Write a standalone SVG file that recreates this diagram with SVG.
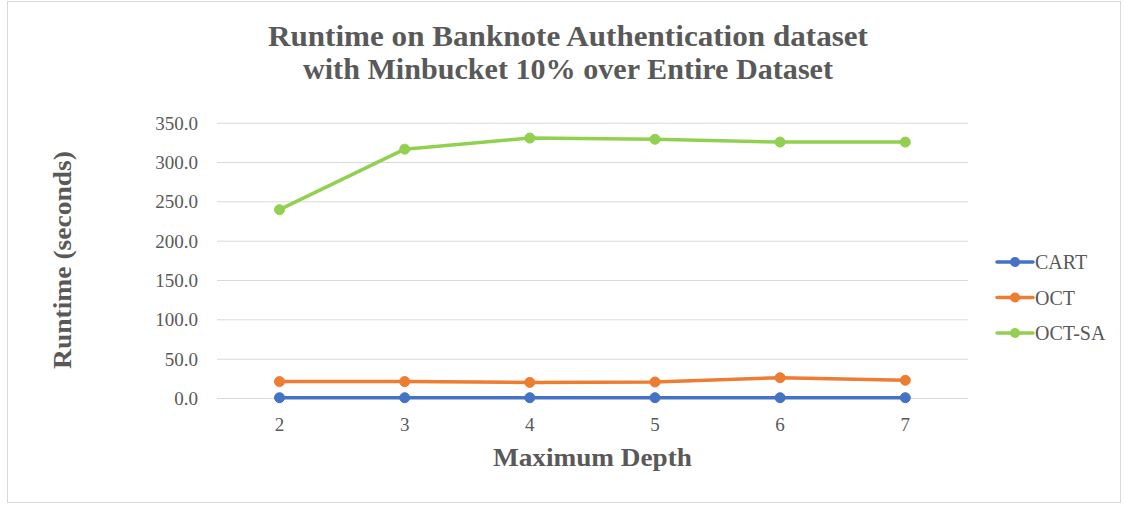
<svg xmlns="http://www.w3.org/2000/svg" width="1125" height="506" viewBox="0 0 1125 506">
  <style>
    .txt { font-family: "Liberation Serif", "DejaVu Serif", serif; fill: #595959; }
    .title { font-size: 29px; font-weight: bold; }
    .axt { font-size: 25px; font-weight: bold; }
    .tick { font-size: 19px; }
    .leg { font-size: 20px; }
    .grid { stroke: #d9d9d9; stroke-width: 1; }
    .s { fill: none; stroke-width: 3.5; stroke-linejoin: round; stroke-linecap: round; }
  </style>
  <rect x="0" y="0" width="1125" height="506" fill="#ffffff"/>
  <rect x="7.5" y="1.5" width="1113" height="501" fill="#ffffff" stroke="#d9d9d9" stroke-width="1"/>

  <!-- chart title -->
  <g id="title" class="txt title" text-anchor="middle">
    <text x="568" y="46" textLength="600" lengthAdjust="spacingAndGlyphs">Runtime on Banknote Authentication dataset</text>
    <text x="568" y="79" textLength="530" lengthAdjust="spacingAndGlyphs">with Minbucket 10% over Entire Dataset</text>
  </g>

  <!-- horizontal gridlines -->
  <g id="gridlines" class="grid">
    <line x1="217" y1="123.2" x2="968" y2="123.2"/>
    <line x1="217" y1="162.5" x2="968" y2="162.5"/>
    <line x1="217" y1="201.8" x2="968" y2="201.8"/>
    <line x1="217" y1="241.2" x2="968" y2="241.2"/>
    <line x1="217" y1="280.5" x2="968" y2="280.5"/>
    <line x1="217" y1="319.8" x2="968" y2="319.8"/>
    <line x1="217" y1="359.2" x2="968" y2="359.2"/>
    <line x1="217" y1="398.5" x2="968" y2="398.5"/>
  </g>

  <!-- value axis labels -->
  <g id="y-axis" class="txt tick" text-anchor="end">
    <text x="198" y="129.5">350.0</text>
    <text x="198" y="168.5">300.0</text>
    <text x="198" y="208">250.0</text>
    <text x="198" y="247.5">200.0</text>
    <text x="198" y="287">150.0</text>
    <text x="198" y="326">100.0</text>
    <text x="198" y="365.5">50.0</text>
    <text x="198" y="405">0.0</text>
  </g>
  <text id="y-title" class="txt axt" text-anchor="middle" textLength="218" lengthAdjust="spacingAndGlyphs" transform="translate(71 260) rotate(-90)">Runtime (seconds)</text>

  <!-- category axis labels -->
  <g id="x-axis" class="txt tick" text-anchor="middle">
    <text x="279.5" y="431">2</text>
    <text x="404.7" y="431">3</text>
    <text x="529.8" y="431">4</text>
    <text x="655" y="431">5</text>
    <text x="780.1" y="431">6</text>
    <text x="905.3" y="431">7</text>
  </g>
  <text id="x-title" class="txt axt" text-anchor="middle" x="592.5" y="466" textLength="199" lengthAdjust="spacingAndGlyphs">Maximum Depth</text>

  <!-- data series -->
  <g id="connectors">
    <g id="series-cart" stroke="#4472c4" fill="#4472c4">
      <polyline class="s" points="279.5,397.7 404.7,397.7 529.8,397.7 655,397.7 780.1,397.7 905.3,397.7"/>
      <circle cx="279.5" cy="397.7" r="5"/><circle cx="404.7" cy="397.7" r="5"/><circle cx="529.8" cy="397.7" r="5"/>
      <circle cx="655" cy="397.7" r="5"/><circle cx="780.1" cy="397.7" r="5"/><circle cx="905.3" cy="397.7" r="5"/>
    </g>
    <g id="series-oct" stroke="#ed7d31" fill="#ed7d31">
      <polyline class="s" points="279.5,381.6 404.7,381.6 529.8,382.4 655,382 780.1,377.7 905.3,380.3"/>
      <circle cx="279.5" cy="381.6" r="5"/><circle cx="404.7" cy="381.6" r="5"/><circle cx="529.8" cy="382.4" r="5"/>
      <circle cx="655" cy="382" r="5"/><circle cx="780.1" cy="377.7" r="5"/><circle cx="905.3" cy="380.3" r="5"/>
    </g>
    <g id="series-oct-sa" stroke="#92d050" fill="#92d050">
      <polyline class="s" points="279.5,209.7 404.7,149.2 529.8,138.1 655,139.3 780.1,142.1 905.3,142.1"/>
      <circle cx="279.5" cy="209.7" r="5"/><circle cx="404.7" cy="149.2" r="5"/><circle cx="529.8" cy="138.1" r="5"/>
      <circle cx="655" cy="139.3" r="5"/><circle cx="780.1" cy="142.1" r="5"/><circle cx="905.3" cy="142.1" r="5"/>
    </g>
  </g>

  <!-- legend -->
  <g id="legend">
    <g id="legend-cart">
      <line x1="997" y1="262" x2="1033" y2="262" stroke="#4472c4" stroke-width="3.5" stroke-linecap="round"/>
      <circle cx="1015" cy="262" r="5" fill="#4472c4"/>
      <text class="txt leg" x="1035" y="269">CART</text>
    </g>
    <g id="legend-oct">
      <line x1="997" y1="297.5" x2="1033" y2="297.5" stroke="#ed7d31" stroke-width="3.5" stroke-linecap="round"/>
      <circle cx="1015" cy="297.5" r="5" fill="#ed7d31"/>
      <text class="txt leg" x="1035" y="304.5">OCT</text>
    </g>
    <g id="legend-oct-sa">
      <line x1="997" y1="333" x2="1033" y2="333" stroke="#92d050" stroke-width="3.5" stroke-linecap="round"/>
      <circle cx="1015" cy="333" r="5" fill="#92d050"/>
      <text class="txt leg" x="1035" y="340">OCT-SA</text>
    </g>
  </g>
</svg>
